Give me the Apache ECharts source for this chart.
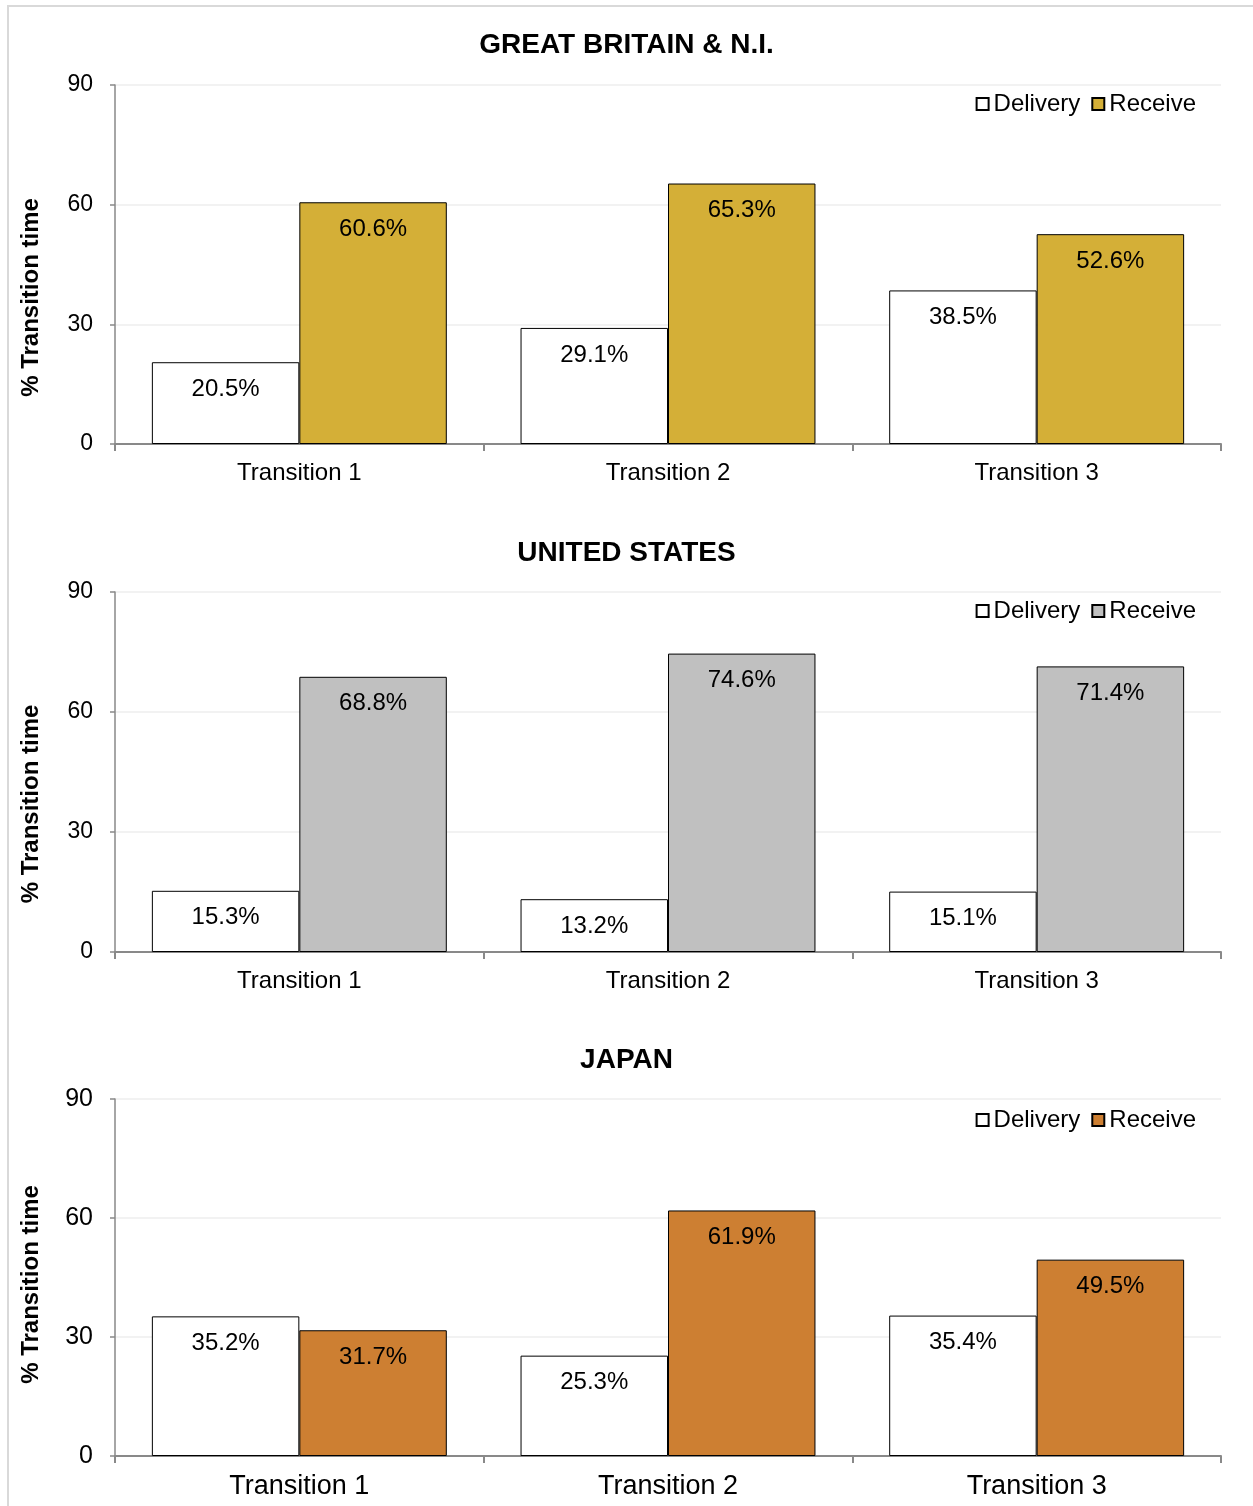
<!DOCTYPE html>
<html><head><meta charset="utf-8">
<script src="https://cdn.jsdelivr.net/npm/echarts@6/dist/echarts.min.js"></script>
<style>html,body{margin:0;padding:0;background:#fff}#c{width:1253px;height:1506px}</style>
</head><body><div id="c"></div>
<script>
const categories = ['Transition 1', 'Transition 2', 'Transition 3'];
const panelTitles = ['GREAT BRITAIN & N.I.', 'UNITED STATES', 'JAPAN'];
const panelKeys = ['GB', 'US', 'JP'];
const gbDelivery = [20.5, 29.1, 38.5];
const gbReceive = [60.6, 65.3, 52.6];
const usDelivery = [15.3, 13.2, 15.1];
const usReceive = [68.8, 74.6, 71.4];
const jpDelivery = [35.2, 25.3, 35.4];
const jpReceive = [31.7, 61.9, 49.5];
const yTicks = [0, 30, 60, 90];
const yName = '% Transition time';

const deliveries = [gbDelivery, usDelivery, jpDelivery];
const receives = [gbReceive, usReceive, jpReceive];
const receiveColors = ['#D4AF37', '#C0C0C0', '#CD7F32'];
const gridTops = [85, 592, 1099];
const gridHeights = [359, 360, 357];
const titleTops = [26, 534, 1041];
const legendTops = [87, 594, 1103];
const nameShift = [66, 64, 14];
const xFont = [24, 24, 27];
const yFont = [23, 23, 25];
const font = 'Liberation Sans, Arial, sans-serif';

const option = {
  animation: false,
  backgroundColor: '#fff',
  textStyle: { fontFamily: font },
  graphic: [{ type: 'rect', shape: { x: 8, y: 6, width: 1300, height: 1600 }, style: { fill: 'none', stroke: '#d9d9d9', lineWidth: 2 }, silent: true }],
  title: [], legend: [], grid: [], xAxis: [], yAxis: [], series: []
};

for (let i = 0; i < 3; i++) {
  const k = panelKeys[i];
  option.title.push({ text: panelTitles[i], left: 'center', top: titleTops[i], textStyle: { fontSize: 28, fontWeight: 'bold', color: '#000', fontFamily: font } });
  option.grid.push({ left: 115, right: 32, top: gridTops[i], height: gridHeights[i] });
  option.legend.push({
    data: [k + '|Delivery', k + '|Receive'], right: 52, top: legendTops[i], itemWidth: 12, itemHeight: 12, itemGap: 11,
    selectedMode: false, icon: 'rect',
    formatter: n => n.split('|')[1],
    textStyle: { fontSize: 24, color: '#000', fontFamily: font }
  });
  option.xAxis.push({
    type: 'category', gridIndex: i, data: categories,
    axisLine: { lineStyle: { color: '#898989', width: 2 } },
    axisTick: { show: true, length: 7, lineStyle: { color: '#898989', width: 2 } },
    axisLabel: { fontSize: xFont[i], color: '#000', margin: 17, fontFamily: font }
  });
  option.yAxis.push({
    type: 'value', gridIndex: i, min: yTicks[0], max: yTicks[yTicks.length - 1], interval: 30,
    name: yName, nameLocation: 'middle', nameGap: 72, nameRotate: 90,
    nameTextStyle: { fontSize: 24, fontWeight: 'bold', color: '#000', fontFamily: font, padding: [0, nameShift[i], 0, 0] },
    axisLine: { show: true, lineStyle: { color: '#898989', width: 1.5 } },
    axisTick: { show: true, length: 5, lineStyle: { color: '#898989', width: 1.5 } },
    axisLabel: { fontSize: yFont[i], color: '#000', margin: 22, fontFamily: font },
    splitLine: { lineStyle: { color: '#eeeeee', width: 1.5 } }
  });
  const lbl = { show: true, position: 'insideTop', distance: 15, fontSize: 24, color: '#000', fontFamily: font, formatter: p => p.value.toFixed(1) + '%' };
  option.series.push({
    name: k + '|Delivery', type: 'bar', xAxisIndex: i, yAxisIndex: i, data: deliveries[i],
    barGap: '0%', barCategoryGap: '20%',
    itemStyle: { color: '#ffffff', borderColor: '#000', borderWidth: 1 }, label: lbl
  });
  option.series.push({
    name: k + '|Receive', type: 'bar', xAxisIndex: i, yAxisIndex: i, data: receives[i],
    barGap: '0%', barCategoryGap: '20%',
    itemStyle: { color: receiveColors[i], borderColor: '#000', borderWidth: 1 }, label: lbl
  });
}

const chart = echarts.init(document.getElementById('c'), null, { renderer: 'canvas' });
chart.setOption(option);
</script></body></html>
